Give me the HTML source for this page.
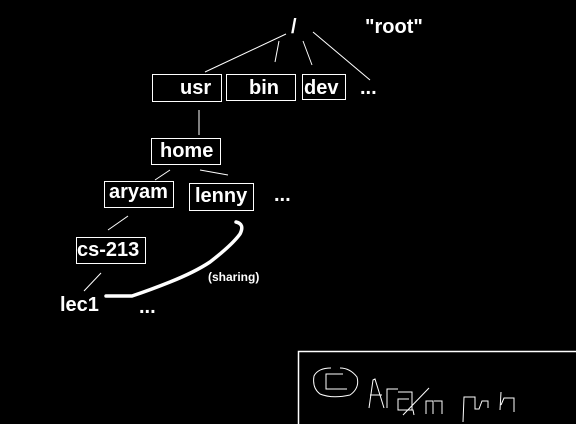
<!DOCTYPE html>
<html><head><style>
html,body{margin:0;padding:0;background:#000;}
body{width:576px;height:424px;position:relative;overflow:hidden;font-family:"Liberation Sans",Arial,sans-serif;color:#fff;font-weight:bold;}
.b{position:absolute;border:1.5px solid #fff;box-sizing:border-box;}
.t{position:absolute;font-size:20px;line-height:1;white-space:nowrap;}
</style></head><body>
<svg width="576" height="424" style="position:absolute;left:0;top:0" fill="none" stroke="#fff">
<g stroke-width="1">
<line x1="286" y1="34" x2="205" y2="72"/>
<line x1="279" y1="41" x2="275" y2="62"/>
<line x1="303" y1="41" x2="312" y2="65"/>
<line x1="313" y1="32" x2="370" y2="80"/>
<line x1="199" y1="110" x2="199" y2="135"/>
<line x1="155" y1="180" x2="170" y2="170"/>
<line x1="200" y1="170" x2="228" y2="175"/>
<line x1="108" y1="230" x2="128" y2="216"/>
<line x1="84" y1="291" x2="101" y2="273"/>
</g>
<path d="M106 296 L132 296 Q150 290 170 282 Q195 272 210 262 Q232 245 240 234 Q245 224 236 222" stroke-width="3.5" stroke-linecap="round"/>
<rect x="298.5" y="351.5" width="290" height="80" stroke-width="1.5"/>
<g stroke-width="1">
<path d="M331 368 Q318 368 314 376 Q312 388 320 394 Q332 399 350 395 Q360 388 357 377 Q350 368 340 368"/>
<path d="M343 374 L326 374 L326 389 L347 389"/>
<path d="M369 408 L373 380 L375 379 L384 408 M370 395 L382 395"/>
<path d="M387 408 L387 389 L398 389"/>
<path d="M403 415 L429 388"/>
<path d="M398 392 L412 392 L412 410 M409 399 L398 399 L398 410 L413 410 L414 415"/>
<path d="M426 414 L426 401 L433 401 L433 414 M434 401 L442 401 L442 414"/>
<path d="M463 422 L464 397 L475 397 L475 409 L479 409 L482 401 L488 401 L488 408 M500 410 L501 392 M501 405 L504 398 L514 398 L514 412"/>
</g>
</svg>
<div class="t" style="left:291px;top:17px">/</div>
<div class="t" style="left:365px;top:17px">"root"</div>
<div class="b" style="left:152px;top:74px;width:70px;height:28px"></div><div class="t" style="left:180px;top:78px">usr</div>
<div class="b" style="left:226px;top:74px;width:70px;height:27px"></div><div class="t" style="left:249px;top:78px">bin</div>
<div class="b" style="left:302px;top:74px;width:44px;height:26px"></div><div class="t" style="left:304px;top:78px">dev</div>
<div class="t" style="left:360px;top:78px">...</div>
<div class="b" style="left:151px;top:138px;width:70px;height:27px"></div><div class="t" style="left:160px;top:141px">home</div>
<div class="b" style="left:104px;top:181px;width:70px;height:27px"></div><div class="t" style="left:109px;top:182px">aryam</div>
<div class="b" style="left:189px;top:183px;width:65px;height:28px"></div><div class="t" style="left:195px;top:186px">lenny</div>
<div class="t" style="left:274px;top:185px">...</div>
<div class="b" style="left:76px;top:237px;width:70px;height:27px"></div><div class="t" style="left:77px;top:240px">cs-213</div>
<div class="t" style="left:60px;top:295px">lec1</div>
<div class="t" style="left:139px;top:297px">...</div>
<div class="t" style="left:208px;top:271px;font-size:12px">(sharing)</div>
</body></html>
